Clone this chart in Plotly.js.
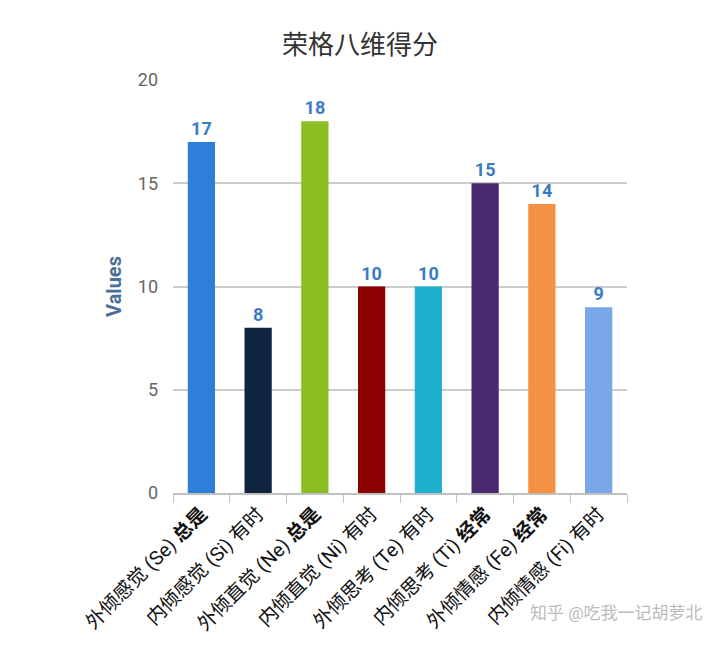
<!DOCTYPE html>
<html>
<head>
<meta charset="utf-8">
<script src="https://cdn.plot.ly/plotly-3.0.1.min.js"></script>
<style>
  html, body { margin: 0; padding: 0; background: #fff; }
  #chart { width: 720px; height: 646px; }
</style>
</head>
<body>
<div id="chart"></div>
<script>
// Jung eight-function scores, one bar per function
const functions = ["Se", "Si", "Ne", "Ni", "Te", "Ti", "Fe", "Fi"];
const tickLabels = [
  "外倾感觉 (Se) <b>总是</b>",
  "内倾感觉 (Si) 有时",
  "外倾直觉 (Ne) <b>总是</b>",
  "内倾直觉 (Ni) 有时",
  "外倾思考 (Te) 有时",
  "内倾思考 (Ti) <b>经常</b>",
  "外倾情感 (Fe) <b>经常</b>",
  "内倾情感 (Fi) 有时",
];
const scores = [17, 8, 18, 10, 10, 15, 14, 9];
const barColors = ["#2e7fd9", "#0e2440", "#8cbd22", "#8b0000", "#1fb0d0", "#4a2a6e", "#f39244", "#79a6e6"];

const FONT = "Roboto, 'Noto Sans CJK SC', sans-serif";

const trace = {
  type: "bar",
  x: functions,
  y: scores,
  marker: { color: barColors },
  texttemplate: "<b>%{y}</b>",
  textposition: "outside",
  textfont: { color: "#3a7cc4", size: 18, family: FONT },
  cliponaxis: false,
  hoverinfo: "skip",
};

const layout = {
  width: 720, height: 646,
  paper_bgcolor: "#fff", plot_bgcolor: "#fff",
  font: { family: FONT, color: "#333" },
  margin: { t: 80, r: 93, b: 153, l: 173 },
  bargap: 0.52,
  showlegend: false,
  title: {
    text: "荣格八维得分",
    x: 0.5, xref: "container", xanchor: "center",
    y: 0.93, yref: "container", yanchor: "middle",
    font: { size: 26, color: "#333", family: FONT },
  },
  xaxis: {
    type: "category",
    tickvals: functions,
    ticktext: tickLabels,
    tickangle: -45,
    tickson: "boundaries",
    ticks: "outside", ticklen: 8, tickcolor: "#c0c0c0",
    showline: true, linecolor: "#c0c0c0", linewidth: 2,
    showgrid: false,
    tickfont: { size: 19.5, color: "#111", family: FONT },
  },
  yaxis: {
    range: [0, 20],
    tickvals: [0, 5, 10, 15, 20],
    showgrid: true, gridcolor: "#cccccc", gridwidth: 2,
    zeroline: false,
    ticks: "", ticklabelstandoff: 14,
    tickfont: { size: 18, color: "#666", family: FONT },
    title: {
      text: "<b>Values</b>",
      standoff: 10,
      font: { size: 20, color: "#4a6f9a", family: FONT },
    },
  },
  annotations: [{
    text: "知乎 @吃我一记胡萝北",
    xref: "paper", yref: "paper", x: 1.17, y: -0.29,
    xanchor: "right", yanchor: "middle", showarrow: false,
    font: { size: 17, color: "#bbbbbb", family: FONT },
  }],
};

Plotly.newPlot("chart", [trace], layout, { displayModeBar: false, staticPlot: true });
</script>
</body>
</html>
